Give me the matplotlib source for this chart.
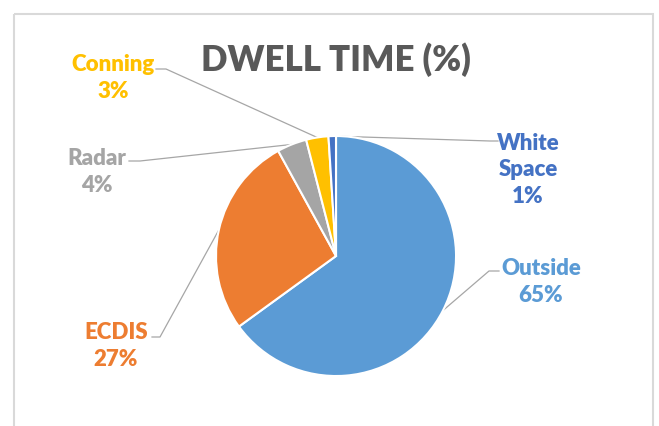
import numpy as np
import matplotlib.pyplot as plt
from matplotlib.patches import Rectangle

# dwell time share per area of interest
areas = ['Outside', 'ECDIS', 'Radar', 'Conning', 'White\nSpace']
shares = [65, 27, 4, 3, 1]
colors = ['#5B9BD5', '#ED7D31', '#A5A5A5', '#FFC000', '#4472C4']

W, H = 659, 426
fig = plt.figure(figsize=(W / 100, H / 100), dpi=100)
ax = fig.add_axes([0, 0, 1, 1])
ax.set_xlim(0, W)
ax.set_ylim(H, 0)
ax.axis('off')

font = 'Lato'
cx, cy, R = 336, 256, 120
explode = [0.045, 0, 0, 0, 0]

# pie drawn on a separate axes in pixel units (y up) so angles stay standard
pax = fig.add_axes([0, 0, 1, 1])
wedges, _ = pax.pie(shares, colors=colors, startangle=90, counterclock=False,
                    center=(cx, H - cy), radius=R, explode=explode,
                    wedgeprops=dict(edgecolor='white', linewidth=1.5),
                    frame=True)
pax.set_xlim(0, W)
pax.set_ylim(0, H)
pax.axis('off')


def rim_point(i):
    w = wedges[i]
    ang = np.deg2rad((w.theta1 + w.theta2) / 2)
    x = w.center[0] + R * np.cos(ang)
    y = w.center[1] + R * np.sin(ang)
    return x, H - y


# label centre, elbow start, elbow end
labels = [
    (541, 282, (499, 271), (489, 271)),   # Outside
    (116, 346, (152, 337), (160, 337)),   # ECDIS
    (97, 172, (129, 161), (140, 161)),    # Radar
    (113, 78, (156, 69), (166, 69)),      # Conning
    (528, 170, (498, 141), (490, 141)),   # White Space
]

for i, (tx, ty, p0, p1) in enumerate(labels):
    txt = f'{areas[i]}\n{shares[i]}%'
    ax.text(tx, ty, txt, ha='center', va='center', color=colors[i],
            fontsize=16, fontweight='heavy', family=font, linespacing=1.3)
    rx, ry = rim_point(i)
    ax.plot([p0[0], p1[0], rx], [p0[1], p1[1], ry], color='#A6A6A6', lw=0.9)

ax.text(336, 60, 'DWELL TIME (%)', ha='center', va='center', color='#595959',
        fontsize=25, fontweight='heavy', family=font)

ax.add_patch(Rectangle((14, 14), 639, 430, fill=False, edgecolor='#D9D9D9', lw=1.5))

fig.savefig('out.png', dpi=100)
